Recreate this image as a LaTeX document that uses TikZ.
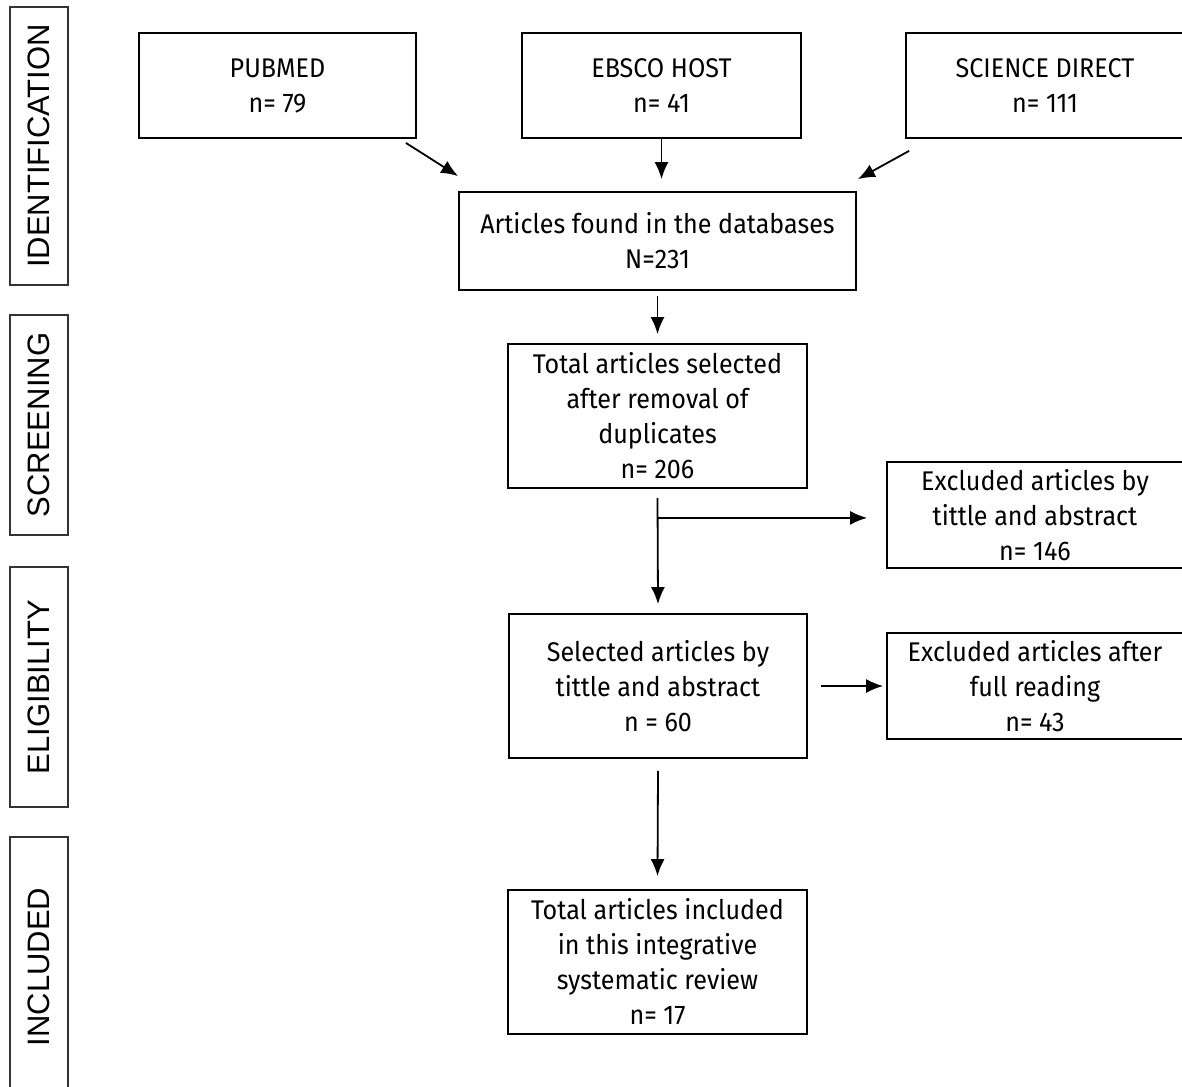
\documentclass[tikz,border=0pt]{standalone}
\usepackage{fontspec}
\setmainfont[FakeStretch=0.93]{Fira Sans}
\newfontfamily\stagefont{Liberation Sans}
\usetikzlibrary{arrows.meta}

\tikzset{
  stage/.style = {draw=black!80, line width=1.8pt, inner sep=0pt,
                  minimum height=58pt, rotate=90, font=\stagefont\fontsize{31}{31}\selectfont},
  box/.style   = {draw, line width=1.8pt, inner sep=0pt, align=center,
                  font=\fontsize{27}{35}\selectfont},
  arr/.style   = {line width=1.8pt, -{Latex[length=17pt,width=14pt]}}
}

\begin{document}
\begin{tikzpicture}[x=1pt, y=-1pt]
    \useasboundingbox (0,0) rectangle (1182,1086);
    \clip (0,0) rectangle (1182,1086);

    % stages
    \node[stage, minimum width=278pt] (ident)  at (39,146) {IDENTIFICATION};
    \node[stage, minimum width=220pt] (screen) at (39,425) {SCREENING};
    \node[stage, minimum width=240pt] (elig)   at (39,687) {ELIGIBILITY};
    \node[stage, minimum width=260pt] (incl)   at (39,967) {INCLUDED};

    % databases
    \node[box, minimum width=277pt, minimum height=105pt] (pubmed)  at (277.5,85.5) {PUBMED\\n= 79};
    \node[box, minimum width=279pt, minimum height=105pt] (ebsco)   at (661.5,85.5) {EBSCO HOST\\n= 41};
    \node[box, minimum width=278pt, minimum height=105pt] (science) at (1045,85.5) {SCIENCE DIRECT\\n= 111};

    \node[box, minimum width=397pt, minimum height=98pt] (found) at (657.5,241) {Articles found in the databases\\N=231};
    \node[box, minimum width=299pt, minimum height=144pt] (total) at (657.5,416) {Total articles selected\\after removal of\\duplicates\\n= 206};
    \node[box, minimum width=296pt, minimum height=106pt] (excl1) at (1035,515) {Excluded articles by\\tittle and abstract\\n= 146};
    \node[box, minimum width=298pt, minimum height=144pt] (selected) at (658,686) {Selected articles by\\tittle and abstract\\n = 60};
    \node[box, minimum width=296pt, minimum height=106pt] (excl2) at (1035,686) {Excluded articles after\\full reading\\n= 43};
    \node[box, minimum width=299pt, minimum height=144pt] (included) at (657.5,962) {Total articles included\\in this integrative\\systematic review\\n= 17};

    % connectors
    \draw[arr] ([xshift=-11pt,yshift=-4pt]pubmed.south east) -- ([yshift=15pt]found.north west);
    \draw[arr] (ebsco.south) -- ([yshift=12pt]found.north -| ebsco.south);
    \draw[arr] ([xshift=4pt,yshift=-12pt]science.south west) -- ([xshift=1pt,yshift=12pt]found.north east);
    \draw[arr] ([yshift=-5pt]found.south) -- ([yshift=9pt]total.north);
    \draw[arr] ([yshift=-9pt]total.south) -- ([yshift=9pt]selected.north);
    \coordinate (branch) at ([yshift=-29pt]total.south);
    \draw[arr] (branch) -- ([xshift=-19pt]branch -| excl1.west);
    \draw[arr] ([xshift=13pt]selected.east) -- ([xshift=-3pt]excl2.west);
    \draw[arr] ([yshift=-12pt]selected.south) -- ([yshift=13pt]included.north);
\end{tikzpicture}
\end{document}
